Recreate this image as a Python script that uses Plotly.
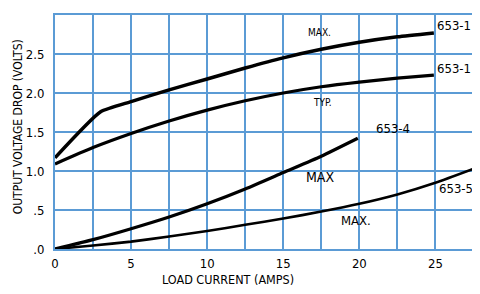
import plotly.graph_objects as go

# Data
x_653_1_max = [0, 3.0, 5, 7.5, 10, 12.5, 15, 17.5, 20, 22.5, 24.9]
y_653_1_max = [1.17, 1.76, 1.89, 2.04, 2.18, 2.32, 2.45, 2.56, 2.65, 2.72, 2.77]

x_653_1_typ = [0, 2.5, 5, 7.5, 10, 12.5, 15, 17.5, 20, 22.5, 24.9]
y_653_1_typ = [1.09, 1.30, 1.48, 1.64, 1.78, 1.90, 2.00, 2.08, 2.14, 2.19, 2.23]

x_653_4_max = [0, 2.5, 5, 7.5, 10, 12.5, 15, 17.5, 19.9]
y_653_4_max = [0, 0.12, 0.26, 0.41, 0.58, 0.77, 0.98, 1.19, 1.42]

x_653_5_max = [0, 2.5, 5, 7.5, 10, 12.5, 15, 17.5, 20, 22.5, 25, 27.8]
y_653_5_max = [0, 0.045, 0.095, 0.16, 0.23, 0.31, 0.39, 0.48, 0.58, 0.70, 0.85, 1.05]

x_tick_vals = [0, 2.5, 5, 7.5, 10, 12.5, 15, 17.5, 20, 22.5, 25, 27.5]
x_tick_text = ["0", "", "5", "", "10", "", "15", "", "20", "", "25", ""]
y_tick_vals = [0, 0.5, 1.0, 1.5, 2.0, 2.5, 3.0]
y_tick_text = [".0", ".5", "1.0", "1.5", "2.0", "2.5", ""]

FONT = "DejaVu Sans Condensed, Liberation Sans Narrow, Arial Narrow, sans-serif"
GRID = "#5b9bd5"

fig = go.Figure()
fig.add_trace(go.Scatter(x=x_653_1_max, y=y_653_1_max, mode="lines",
                         line=dict(color="black", width=3.5, shape="spline", smoothing=0.5)))
fig.add_trace(go.Scatter(x=x_653_1_typ, y=y_653_1_typ, mode="lines",
                         line=dict(color="black", width=3.2, shape="spline", smoothing=0.6)))
fig.add_trace(go.Scatter(x=x_653_4_max, y=y_653_4_max, mode="lines",
                         line=dict(color="black", width=3.2, shape="spline", smoothing=0.6)))
fig.add_trace(go.Scatter(x=x_653_5_max, y=y_653_5_max, mode="lines",
                         line=dict(color="black", width=2.6, shape="spline", smoothing=0.6)))

annots = [
    ("MAX.", 17.4, 2.78, 10, "center"),
    ("653-1", 27.5, 2.86, 13, "right"),
    ("653-1", 27.5, 2.31, 13, "right"),
    ("TYP.", 17.6, 1.88, 10, "center"),
    ("653-4", 22.2, 1.55, 13, "center"),
    ("MAX", 17.4, 0.92, 14, "center"),
    ("653-5", 27.6, 0.78, 13, "right"),
    ("MAX.", 19.8, 0.37, 13, "center"),
]
for text, ax, ay, sz, anc in annots:
    fig.add_annotation(x=ax, y=ay, text=text, showarrow=False, xanchor=anc,
                       font=dict(family=FONT, size=sz, color="black"))

# axis titles
fig.add_annotation(xref="paper", yref="paper", x=0.41, y=0, yshift=-30,
                   text="LOAD CURRENT (AMPS)", showarrow=False, yanchor="middle",
                   font=dict(family=FONT, size=12.5, color="black"))
fig.add_annotation(xref="paper", yref="paper", x=0, y=0.52, xshift=-37,
                   text="OUTPUT VOLTAGE DROP (VOLTS)", showarrow=False, textangle=-90,
                   xanchor="center", yanchor="middle",
                   font=dict(family=FONT, size=12, color="black"))

# page body has an 8px default margin: compensate so the plot sits as in the reference
fig.update_layout(
    width=472, height=286,
    margin=dict(l=47, r=0, t=7, b=45),
    paper_bgcolor="white", plot_bgcolor="white",
    showlegend=False,
    font=dict(family=FONT, size=13, color="black"),
)
fig.update_xaxes(range=[0, 27.8], tickvals=x_tick_vals, ticktext=x_tick_text,
                 showgrid=True, gridcolor=GRID, gridwidth=1.5,
                 showline=True, linecolor=GRID, linewidth=2, mirror=True,
                 zeroline=False, ticks="", tickfont=dict(size=13), ticklabelstandoff=1)
fig.update_yaxes(range=[0, 3.0], tickvals=y_tick_vals, ticktext=y_tick_text,
                 showgrid=True, gridcolor=GRID, gridwidth=1.5,
                 showline=True, linecolor=GRID, linewidth=2, mirror=True,
                 zeroline=False, ticks="", tickfont=dict(size=13), ticklabelstandoff=6)

fig.write_html("out.html")
